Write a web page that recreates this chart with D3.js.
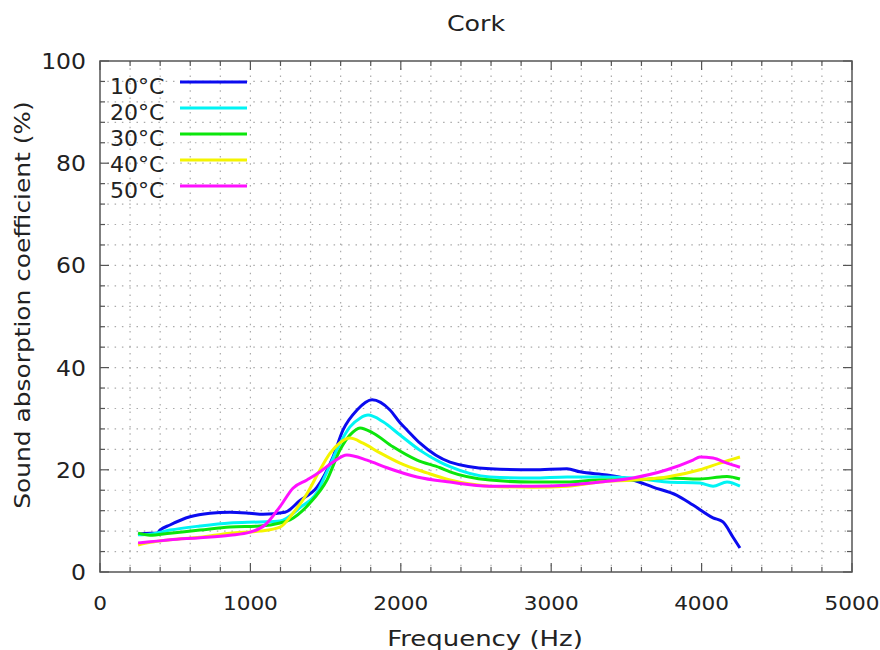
<!DOCTYPE html>
<html>
<head>
<meta charset="utf-8">
<script src="https://cdn.jsdelivr.net/npm/d3@7"></script>
<style>
  body { margin: 0; background: #fff; }
  text { font-family: "DejaVu Sans", sans-serif; fill: #222; }
</style>
</head>
<body>
<svg id="chart"></svg>
<script>
// series: [frequency Hz, absorption %]
const series10 = [[253,7.4],[332,7.6],[379,7.6],[399,8.2],[465,9.2],[598,10.8],[731,11.5],[864,11.7],[997,11.5],[1084,11.3],[1230,11.7],[1330,14],[1443,16.6],[1549,22.5],[1616,27.8],[1709,31.7],[1809,33.7],[1928,31.7],[1995,29.2],[2041,27.8],[2128,25.2],[2327,21.5],[2593,20.2],[2879,20],[3105,20.2],[3191,19.6],[3371,19],[3544,18],[3677,16.6],[3836,15],[3943,13.1],[4076,10.6],[4142,9.8],[4209,6.8],[4255,4.7]];
const series20 = [[253,7.3],[332,7.4],[465,8.2],[665,9.0],[864,9.6],[1064,9.8],[1197,10.0],[1330,12.6],[1443,15.6],[1509,19.6],[1596,25.2],[1662,28.4],[1729,30.1],[1782,30.7],[1882,29.4],[1995,26.8],[2128,23.8],[2261,21.5],[2327,20.6],[2593,18.6],[2879,18.4],[3105,18.6],[3324,18.6],[3544,18.4],[3770,17.6],[3989,17.4],[4076,16.8],[4169,17.6],[4255,16.8]];
const series30 = [[253,7.6],[332,7.2],[465,7.6],[665,8.2],[864,8.8],[1064,9.0],[1197,9.6],[1263,10.2],[1396,13.5],[1509,18],[1596,23.9],[1662,26.8],[1729,28.2],[1815,27.2],[1948,24.5],[2108,21.9],[2261,20.4],[2327,19.6],[2593,18],[2879,17.6],[3105,17.6],[3324,18],[3544,18],[3770,18.4],[3989,18.2],[4122,18.6],[4169,18.7],[4255,18.2]];
const series40 = [[253,5.3],[332,5.8],[465,6.3],[665,6.8],[864,7.6],[1064,8.0],[1197,8.8],[1283,11.5],[1376,15.3],[1463,20],[1529,23.2],[1596,25.3],[1662,26.2],[1749,25.2],[1862,23.3],[1995,21.3],[2174,19.4],[2327,18],[2593,16.8],[2879,16.6],[3105,16.8],[3324,17.6],[3544,18],[3770,18.6],[3989,20],[4122,21.3],[4255,22.5]];
const series50 = [[253,5.7],[332,5.9],[465,6.3],[665,6.7],[864,7.2],[997,7.8],[1097,9.2],[1197,12.8],[1283,16.4],[1376,18],[1463,19.6],[1549,21.5],[1642,22.9],[1775,21.9],[1908,20.4],[2108,18.6],[2327,17.6],[2593,16.8],[2879,16.8],[3105,17],[3324,17.6],[3544,18.4],[3770,20],[3943,21.9],[3989,22.5],[4076,22.3],[4169,21.3],[4255,20.5]];

const seriesNames = ["10°C", "20°C", "30°C", "40°C", "50°C"];
const seriesColors = ["#0b0bef", "#00f4f4", "#0ce60c", "#f4f400", "#ff10ff"];
const allSeries = [series10, series20, series30, series40, series50];

const xTicks = [0, 1000, 2000, 3000, 4000, 5000];
const yTicks = [0, 20, 40, 60, 80, 100];

const width = 880, height = 650;
const margin = {top: 61, right: 28, bottom: 78, left: 100};

const svg = d3.select("#chart")
  .attr("width", width)
  .attr("height", height);

const x = d3.scaleLinear().domain([0, 5000]).range([margin.left, width - margin.right]);
const y = d3.scaleLinear().domain([0, 100]).range([height - margin.bottom, margin.top]);

const x0 = x.range()[0], x1 = x.range()[1];
const y0 = y.range()[0], y1 = y.range()[1];

// the source text is a bit wider than DejaVu, so stretch it sideways
function label(g, tx, ty, str, size, sx, anchor, rot) {
  return g.append("text")
    .attr("transform", `translate(${tx},${ty})` + (rot ? ` rotate(${rot})` : "") + ` scale(${sx},1)`)
    .attr("text-anchor", anchor)
    .style("font-size", size + "px")
    .text(str);
}

// dotted grid on every minor step
const xGrid = d3.range(200, 5000, 200);
const yGrid = d3.range(4, 100, 4);

svg.append("g").selectAll("line").data(xGrid).join("line")
  .attr("x1", d => x(d)).attr("x2", d => x(d))
  .attr("y1", y1).attr("y2", y0)
  .attr("stroke", "#aaa").attr("stroke-width", 1.2)
  .attr("stroke-dasharray", "1.5,5.8");

svg.append("g").selectAll("line").data(yGrid).join("line")
  .attr("x1", x0).attr("x2", x1)
  .attr("y1", d => y(d)).attr("y2", d => y(d))
  .attr("stroke", "#aaa").attr("stroke-width", 1.2)
  .attr("stroke-dasharray", "1.5,5.8");

// inward ticks on all four sides (mirror)
const ticks = svg.append("g").attr("stroke", "#555").attr("stroke-width", 1.2);
d3.range(0, 5001, 200).forEach(v => {
  const len = v % 1000 === 0 ? 9 : 5;
  ticks.append("line").attr("x1", x(v)).attr("x2", x(v)).attr("y1", y0).attr("y2", y0 - len);
  ticks.append("line").attr("x1", x(v)).attr("x2", x(v)).attr("y1", y1).attr("y2", y1 + len);
});
d3.range(0, 101, 4).forEach(v => {
  const len = v % 20 === 0 ? 9 : 5;
  ticks.append("line").attr("y1", y(v)).attr("y2", y(v)).attr("x1", x0).attr("x2", x0 + len);
  ticks.append("line").attr("y1", y(v)).attr("y2", y(v)).attr("x1", x1).attr("x2", x1 - len);
});

svg.append("rect")
  .attr("x", x0).attr("y", y1)
  .attr("width", x1 - x0).attr("height", y0 - y1)
  .attr("fill", "none").attr("stroke", "#555").attr("stroke-width", 1.5);

// tick labels
const labels = svg.append("g");
xTicks.forEach(d => label(labels, x(d), y0 + 38, d, 20, 1.08, "middle"));
yTicks.forEach(d => label(labels, x0 - 14, y(d) + 8, d, 21, 1.12, "end"));

// titles
label(svg, (x0 + x1) / 2, 31, "Cork", 22, 1.15, "middle");
label(svg, 485, 646, "Frequency (Hz)", 22, 1.18, "middle");
label(svg, 30, 305, "Sound absorption coefficient (%)", 22, 1.13, "middle", -90);

// curves
const line = d3.line()
  .x(d => x(d[0]))
  .y(d => y(d[1]))
  .curve(d3.curveMonotoneX);

allSeries.forEach((s, i) => {
  svg.append("path")
    .datum(s)
    .attr("fill", "none")
    .attr("stroke", seriesColors[i])
    .attr("stroke-width", 3)
    .attr("stroke-linejoin", "round")
    .attr("d", line);
});

// legend
const legend = svg.append("g");
seriesNames.forEach((name, i) => {
  const ly = 82 + i * 26;
  label(legend, 110, ly + 12, name, 21, 1.05, "start");
  legend.append("line")
    .attr("x1", 180).attr("x2", 247)
    .attr("y1", ly).attr("y2", ly)
    .attr("stroke", seriesColors[i])
    .attr("stroke-width", 3);
});
</script>
</body>
</html>
